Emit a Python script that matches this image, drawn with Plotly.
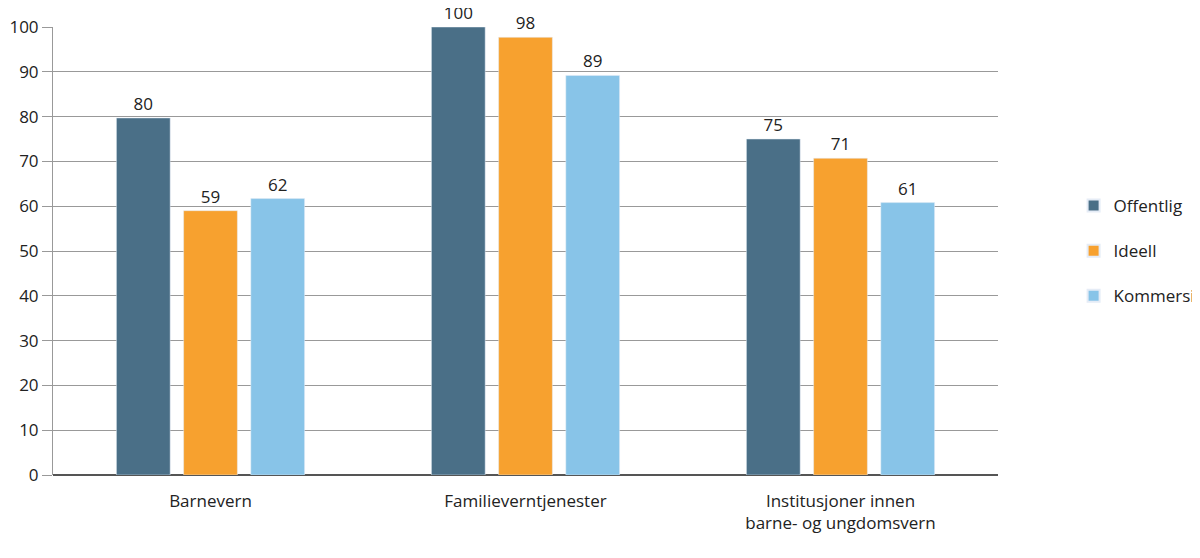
import plotly.graph_objects as go

categories = ["Barnevern", "Familieverntjenester", "Institusjoner innen<br>barne- og ungdomsvern"]
offentlig = [79.7, 100, 75]
ideell = [59, 97.7, 70.7]
kommersiell = [61.7, 89.2, 60.8]
series = [("Offentlig", offentlig, "#4a6f87"), ("Ideell", ideell, "#f7a12f"), ("Kommersiell", kommersiell, "#88c4e8")]
yticks = list(range(0, 101, 10))

fig = go.Figure()
for name, vals, col in series:
    fig.add_bar(x=categories, y=vals, name=name, marker_color=col, legendgroup=name,
                text=[f"{v:.0f}" for v in vals], textposition="outside",
                textfont=dict(size=17, color="#222"), cliponaxis=False)

fig.update_layout(
    width=1200, height=558, barmode="group", bargap=0.36, bargroupgap=0.2,
    margin=dict(l=45, r=210, t=19, b=91, autoexpand=False),
    plot_bgcolor="white", paper_bgcolor="white",
    font=dict(family="Open Sans, Liberation Sans, sans-serif", size=17, color="#222"),
    legend=dict(x=1.08, y=0.5, yanchor="middle", xanchor="left", font=dict(size=17),
                itemsizing="constant", tracegroupgap=20),
    xaxis=dict(showline=False, ticks="", tickfont=dict(size=17), automargin=False,
               ticklabelstandoff=14),
    yaxis=dict(range=[0, 100], tickvals=yticks, showgrid=True, gridcolor="#999", gridwidth=1,
               ticks="outside", ticklen=10, tickcolor="#999", zeroline=True, zerolinecolor="#555",
               showline=True, linecolor="#999", tickfont=dict(size=17), automargin=False),
)
fig.write_html("out.html")
